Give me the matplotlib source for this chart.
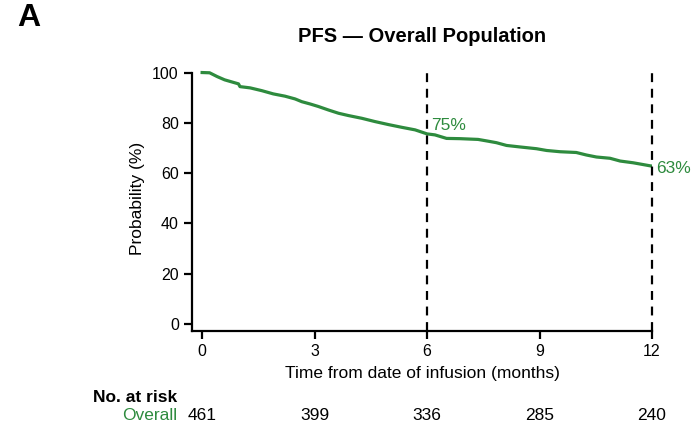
import numpy as np
import matplotlib.pyplot as plt

plt.rcParams['font.family'] = ['Liberation Sans', 'DejaVu Sans']

# KM curve (months, % progression-free)
months = [0, 0.2, 0.4, 0.6, 0.83, 0.97, 1.01, 1.28, 1.59, 1.9, 2.21, 2.48,
          2.66, 2.88, 3.1, 3.37, 3.64, 3.9, 4.26, 4.61, 4.97, 5.33, 5.68,
          6.0, 6.21, 6.52, 6.88, 7.36, 7.59, 7.85, 8.12, 8.48, 8.92, 9.19,
          9.55, 9.98, 10.25, 10.52, 10.88, 11.15, 11.5, 11.95, 12.0]
surv = [100, 99.9, 98.4, 97.1, 96.1, 95.5, 94.4, 93.9, 92.8, 91.5, 90.6, 89.5,
        88.4, 87.5, 86.5, 85.1, 83.8, 82.9, 81.8, 80.5, 79.3, 78.2, 77.2,
        75.6, 75.2, 73.8, 73.7, 73.4, 72.8, 72.1, 71.0, 70.4, 69.7, 69.0,
        68.5, 68.2, 67.2, 66.4, 65.9, 64.8, 64.1, 62.9, 62.8]

risk_times = [0, 3, 6, 9, 12]
risk_counts = [461, 399, 336, 285, 240]
landmarks = [6, 12]
landmark_labels = ['75%', '63%']
landmark_ypos = [79, 62]

green = '#2e8b3e'

fig = plt.figure(figsize=(6.93, 4.29), dpi=100)
ax = fig.add_axes([192 / 693, 1 - 331 / 429, (652 - 192) / 693, (331 - 66) / 429])

ax.plot(months, surv, color=green, lw=2.3)
for t in landmarks:
    ax.plot([t, t], [-2.8, 100], color='black', lw=1.6, ls=(0, (4, 3)), clip_on=False)
for t, lab, yp in zip(landmarks, landmark_labels, landmark_ypos):
    ax.text(t + 0.1, yp, lab, color=green, fontsize=12.5, ha='left', va='center')

ax.set_xlim(-0.27, 12)
ax.set_ylim(-2.8, 102.6)
ax.set_xticks([0, 3, 6, 9, 12])
ax.set_yticks([0, 20, 40, 60, 80, 100])
ax.spines['top'].set_visible(False)
ax.spines['right'].set_visible(False)
ax.spines['left'].set_bounds(-2.8, 100)
ax.spines['left'].set_linewidth(1.6)
ax.spines['bottom'].set_linewidth(1.6)
ax.tick_params(width=1.6, length=6, labelsize=11.5)
ax.set_xlabel('Time from date of infusion (months)', fontsize=12.5, labelpad=5)
ax.set_ylabel('Probability (%)', fontsize=12.5, labelpad=5)

fig.text(422 / 693, 1 - 37 / 429, 'PFS \u2014 Overall Population', fontsize=14.5,
         fontweight='bold', ha='center', va='center')
fig.text(17 / 693, 1 - 18 / 429, 'A', fontsize=23, fontweight='bold',
         ha='left', va='center')

# number at risk table
fig.text(177 / 693, 1 - 397 / 429, 'No. at risk', fontsize=12.5, fontweight='bold',
         ha='right', va='center')
fig.text(177 / 693, 1 - 415 / 429, 'Overall', fontsize=12.5, color=green,
         ha='right', va='center')
for t, n in zip(risk_times, risk_counts):
    xf = ax.transData.transform((t, 0))[0] / fig.bbox.width
    fig.text(xf, 1 - 415 / 429, str(n), fontsize=12.5, ha='center', va='center')

fig.savefig('out.png', dpi=100)
